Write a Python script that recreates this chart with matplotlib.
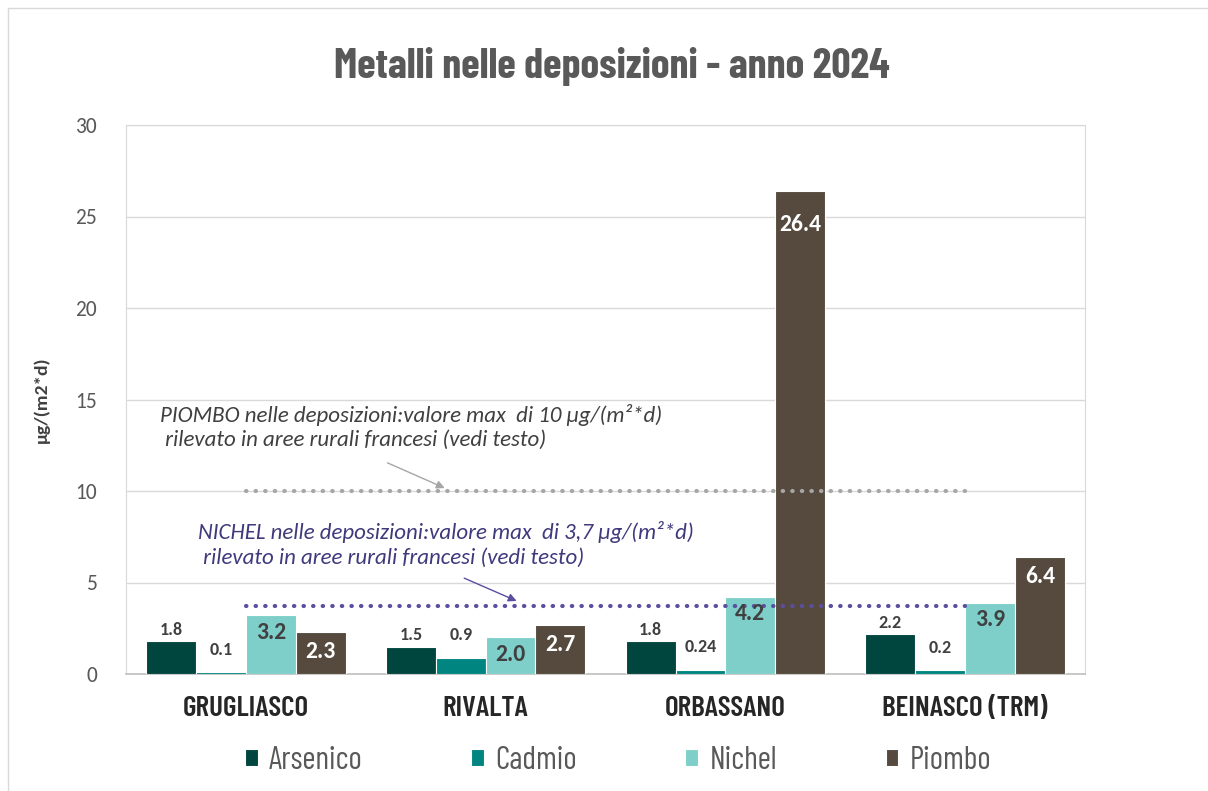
import numpy as np
import matplotlib.pyplot as plt
from matplotlib.patches import Rectangle

# Dati: deposizioni annuali di metalli (µg/(m2*d))
siti = ['GRUGLIASCO', 'RIVALTA', 'ORBASSANO', 'BEINASCO (TRM)']
arsenico = [1.8, 1.5, 1.8, 2.2]
cadmio = [0.1, 0.9, 0.24, 0.2]
nichel = [3.2, 2.0, 4.2, 3.9]
piombo = [2.3, 2.7, 26.4, 6.4]
etichette_cadmio = ['0.1', '0.9', '0.24', '0.2']

soglia_piombo = 10.0
soglia_nichel = 3.7

stretto = ['Barlow Condensed', 'DejaVu Sans']
calibri = ['Carlito', 'DejaVu Sans']

col_ars = '#00463f'
col_cad = '#008580'
col_nic = '#7ecfca'
col_pio = '#554a3d'

fig = plt.figure(figsize=(12.08, 7.91), dpi=100, facecolor='white')
ax = fig.add_axes([126/1208, 1-674/791, (1085-126)/1208, (674-125)/791])

x = np.arange(len(siti))
w = 0.208
serie = [('Arsenico', arsenico, col_ars), ('Cadmio', cadmio, col_cad),
         ('Nichel', nichel, col_nic), ('Piombo', piombo, col_pio)]
barre = []
for i, (nome, vals, col) in enumerate(serie):
    b = ax.bar(x + (i - 1.5) * w, vals, w, color=col, edgecolor='white',
               linewidth=0.8, label=nome, zorder=3)
    barre.append(b)

# etichette dei valori
for rect, v in zip(barre[0], arsenico):
    ax.annotate(f'{v:.1f}', (rect.get_x() + rect.get_width()/2, v),
                xytext=(0, 8), textcoords='offset points', ha='center',
                va='center', fontsize=13, fontweight='bold', color='#404040',
                family=calibri, zorder=5)
for rect, v, t in zip(barre[1], cadmio, etichette_cadmio):
    ax.annotate(t, (rect.get_x() + rect.get_width()/2, v),
                xytext=(0, 16), textcoords='offset points', ha='center',
                va='center', fontsize=13, fontweight='bold', color='#404040',
                family=calibri, zorder=5)
for rect, v in zip(barre[2], nichel):
    ax.annotate(f'{v:.1f}', (rect.get_x() + rect.get_width()/2, v),
                xytext=(0, -12), textcoords='offset points', ha='center',
                va='center', fontsize=17, fontweight='bold', color='#404040',
                family=calibri, zorder=5)
for rect, v in zip(barre[3], piombo):
    off = -24 if v > 20 else -14
    ax.annotate(f'{v:.1f}', (rect.get_x() + rect.get_width()/2, v),
                xytext=(0, off), textcoords='offset points', ha='center',
                va='center', fontsize=17, fontweight='bold', color='white',
                family=calibri, zorder=5)

# linee di riferimento (valori max aree rurali)
ax.plot([0, 3], [soglia_piombo]*2, linestyle=(0, (0.1, 2.2)), color='#a6a6a6',
        linewidth=3, dash_capstyle='round', zorder=4)
ax.plot([0, 3], [soglia_nichel]*2, linestyle=(0, (0.1, 2.2)), color='#5b4ea0',
        linewidth=3, dash_capstyle='round', zorder=4)

ax.text(-0.358, 13.5,
        'PIOMBO nelle deposizioni:valore max  di 10 µg/(m²*d)\n rilevato in aree rurali francesi (vedi testo)',
        ha='left', va='center', fontsize=16.5, style='italic', color='#404040',
        family=calibri, linespacing=1.3, zorder=5)
ax.annotate('', xy=(0.84, 10.1), xytext=(0.58, 11.6),
            arrowprops=dict(arrowstyle='-|>', color='#a6a6a6', lw=1,
                            mutation_scale=12), zorder=5)
ax.text(-0.2, 7.1,
        'NICHEL nelle deposizioni:valore max  di 3,7 µg/(m²*d)\n rilevato in aree rurali francesi (vedi testo)',
        ha='left', va='center', fontsize=16.5, style='italic', color='#3f3a7c',
        family=calibri, linespacing=1.3, zorder=5)
ax.annotate('', xy=(1.14, 3.93), xytext=(0.9, 5.3),
            arrowprops=dict(arrowstyle='-|>', color='#5b4ea0', lw=1,
                            mutation_scale=12), zorder=5)

# assi
ax.set_xlim(-0.5, 3.5)
ax.set_ylim(0, 30)
ax.set_yticks(range(0, 31, 5))
ax.grid(axis='y', color='#d9d9d9', linewidth=1, zorder=0)
ax.set_xticks(x)
ax.set_xticklabels(siti, fontsize=21, fontweight='semibold', color='#262626',
                   family=stretto)
ax.tick_params(axis='x', length=0, pad=16)
ax.tick_params(axis='y', length=0, pad=21, labelsize=15.5, labelcolor='#595959')
for t in ax.get_yticklabels():
    t.set_family(calibri)
for s in ['left', 'right', 'top']:
    ax.spines[s].set_color('#d9d9d9')
ax.spines['bottom'].set_color('#bfbfbf')
ax.spines['bottom'].set_linewidth(1.2)

fig.text(42/1208, 1-400/791, 'µg/(m2*d)', rotation=90, ha='center',
         va='center', fontsize=14, fontweight='bold', color='#404040',
         family=calibri)

fig.text(612/1208, 1-67/791, 'Metalli nelle deposizioni - anno 2024',
         ha='center', va='center', fontsize=30.5, fontweight='bold',
         color='#595959', family=stretto)

leg = fig.legend(handles=barre, labels=[s[0] for s in serie], ncol=4,
                 loc='center', bbox_to_anchor=(618/1208, 1-761/791),
                 frameon=False, handlelength=0.4, handleheight=0.45,
                 handletextpad=0.35, columnspacing=3.4,
                 prop={'family': stretto, 'size': 23})
for t in leg.get_texts():
    t.set_color('#595959')

# cornice esterna
fig.patches.append(Rectangle((8/1208, -0.01), 1.01, 1 - 8/791 + 0.01,
                             transform=fig.transFigure, fill=False,
                             edgecolor='#d9d9d9', linewidth=1))

fig.savefig('out.png', dpi=100, facecolor='white')
